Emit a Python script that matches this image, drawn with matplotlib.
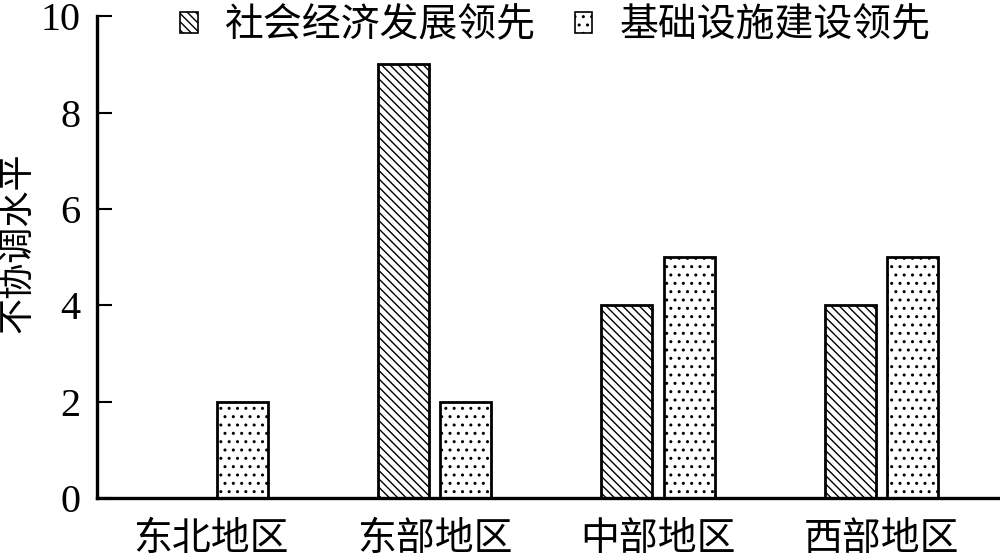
import numpy as np
import matplotlib
matplotlib.use('Agg')
import matplotlib.pyplot as plt

# dados
regioes = ['东北地区', '东部地区', '中部地区', '西部地区']
social = [0, 9, 4, 4]        # 社会经济发展领先
infra = [2, 2, 5, 5]         # 基础设施建设领先
nomes_series = ['社会经济发展领先', '基础设施建设领先']
yticks = [0, 2, 4, 6, 8, 10]

plt.rcParams['font.family'] = ['Liberation Serif', 'Noto Sans CJK SC']
plt.rcParams['hatch.linewidth'] = 1.0
plt.rcParams['axes.unicode_minus'] = False

fig = plt.figure(figsize=(10, 5.59), dpi=100)
ax = fig.add_axes([0.097, 0.109, 0.903, 0.862])

x = np.arange(len(regioes))
largura = 0.228
desloc = 0.14

ax.bar(x - desloc, social, largura, facecolor='white', edgecolor='black',
       linewidth=2.0, hatch='\\\\\\\\', label=nomes_series[0])
ax.bar(x + desloc, infra, largura, facecolor='white', edgecolor='black',
       linewidth=2.0, hatch='..', label=nomes_series[1])

ax.set_xlim(-0.51, 3.53)
ax.set_ylim(0, 10)
ax.set_yticks(yticks)
ax.set_xticks(x)
ax.set_xticklabels(regioes, fontsize=28)

ax.spines['top'].set_visible(False)
ax.spines['right'].set_visible(False)
ax.spines['left'].set_linewidth(2.4)
ax.spines['bottom'].set_linewidth(2.4)
ax.tick_params(axis='y', direction='in', length=11, width=1.5, pad=12, labelsize=29)
ax.tick_params(axis='x', length=0, pad=17)

ax.set_ylabel('不协调水平', fontsize=26)
ax.yaxis.set_label_coords(-0.068, 0.53)

leg = fig.legend(loc='upper left', bbox_to_anchor=(0.18, 0.985), ncol=2, frameon=False,
                 fontsize=28, handlelength=0.45, handleheight=0.45, handletextpad=0.7,
                 columnspacing=1.0, borderpad=0, borderaxespad=0)
for h in leg.legend_handles:
    h.set_linewidth(1.2)

fig.savefig('out.png', dpi=100)
